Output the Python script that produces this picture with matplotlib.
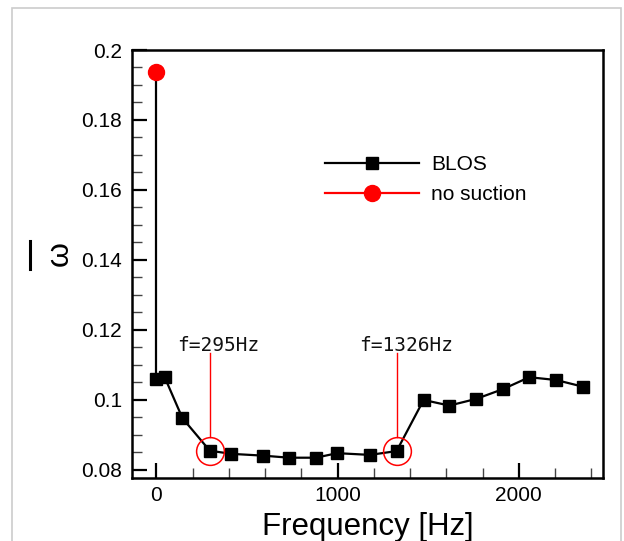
import matplotlib
matplotlib.use("Agg")
import matplotlib.pyplot as plt
from matplotlib.patches import Rectangle
from matplotlib.lines import Line2D
from matplotlib.ticker import MultipleLocator, FixedLocator

# ---- data ----
blos_freq = [0, 46, 144, 295, 414, 586, 733, 881, 998, 1179, 1326,
             1475, 1617, 1765, 1913, 2058, 2206, 2354]
blos_omega = [0.1059, 0.1065, 0.0948, 0.0855, 0.0846, 0.0841, 0.0835, 0.0835,
              0.0848, 0.0843, 0.0854, 0.1000, 0.0984, 0.1003, 0.1031, 0.1065,
              0.1057, 0.1038]
nosuction_freq = [0]
nosuction_omega = [0.1938]

ann_freq = [295, 1326]
ann_labels = ["f=295Hz", "f=1326Hz"]
ann_text_x = [342, 1380]
ann_text_y = 0.1141
ann_line_top = 0.1134
ann_line_bottom = 0.0894

xticks = [0, 1000, 2000]
yticks = [0.08, 0.1, 0.12, 0.14, 0.16, 0.18, 0.2]
ytick_labels = ["0.08", "0.1", "0.12", "0.14", "0.16", "0.18", "0.2"]

plt.rcParams['font.family'] = ['Liberation Sans', 'DejaVu Sans']

fig = plt.figure(figsize=(6.24, 5.41), dpi=100)
ax = fig.add_axes([131.7 / 624, 63 / 541, (603 - 131.7) / 624, 428 / 541])

# border of the picture
fig.patches.append(Rectangle((12 / 624, -0.02), (621 - 12) / 624, (541 - 8) / 541 + 0.02,
                             transform=fig.transFigure, fill=False,
                             edgecolor='#cccccc', linewidth=1.2, clip_on=False))

# connecting line from no-suction point to first BLOS point
ax.plot([nosuction_freq[0], blos_freq[0]], [nosuction_omega[0], blos_omega[0]],
        color='black', linewidth=1.6, zorder=2)
ax.plot(blos_freq, blos_omega, color='black', linewidth=1.6, marker='s',
        markersize=8.3, label='BLOS', zorder=3)
ax.plot(nosuction_freq, nosuction_omega, color='red', linewidth=1.6, marker='o',
        markersize=11.5, label='no suction', zorder=4)

# annotations
for f, lab, tx in zip(ann_freq, ann_labels, ann_text_x):
    idx = blos_freq.index(f)
    ax.plot([f, f], [ann_line_bottom, ann_line_top], color='red', linewidth=1.0, zorder=2)
    ax.plot([f], [blos_omega[idx]], marker='o', markersize=20, markerfacecolor='none',
            markeredgecolor='red', markeredgewidth=1.1, linestyle='none', zorder=5)
    ax.text(tx, ann_text_y, lab, ha='center', va='baseline', fontsize=14,
            family='DejaVu Sans Mono', color='#111111')

ax.set_xlim(-136, 2465)
ax.set_ylim(0.0777, 0.2)

ax.xaxis.set_major_locator(FixedLocator(xticks))
ax.xaxis.set_minor_locator(MultipleLocator(200))
ax.yaxis.set_major_locator(FixedLocator(yticks))
ax.set_yticklabels(ytick_labels)
ax.yaxis.set_minor_locator(MultipleLocator(0.005))

ax.tick_params(axis='both', which='major', direction='in', length=11, width=1.6,
               labelsize=15, top=False, right=False, color='black')
ax.tick_params(axis='both', which='minor', direction='in', length=7, width=1.0,
               top=False, right=False, color='#444444')
ax.tick_params(axis='y', which='major', pad=7)
ax.tick_params(axis='x', which='major', pad=6)

for s in ax.spines.values():
    s.set_linewidth(1.8)

ax.set_xlabel('Frequency [Hz]', fontsize=22.5, labelpad=5)

# y label: omega with an overbar (rotated)
fig.text(60 / 624, 1 - 254 / 541, 'ω', rotation=90, fontsize=23,
         ha='center', va='center')
fig.lines.append(Line2D([30 / 624, 30 / 624], [1 - 241 / 541, 1 - 269 / 541],
                        transform=fig.transFigure, color='black', linewidth=2.2))

ax.legend(loc='upper left', bbox_to_anchor=(325 / 624, 1 - 155 / 541),
          bbox_transform=fig.transFigure, frameon=False, fontsize=15,
          handlelength=4.5, handletextpad=0.6, labelspacing=0.55, borderpad=0,
          borderaxespad=0)

fig.savefig('out.png', dpi=100)
